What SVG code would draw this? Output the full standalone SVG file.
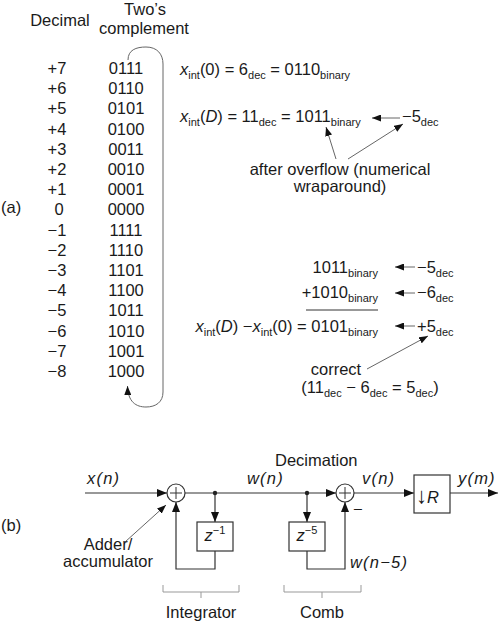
<svg xmlns="http://www.w3.org/2000/svg" width="500" height="623" viewBox="0 0 500 623">
<style>
text{font-family:"Liberation Sans",Arial,sans-serif;font-size:16.5px;fill:#1a1a1a}
.i{font-style:italic}
.lb{font-style:italic;letter-spacing:1.2px}
.s{font-size:11px}
.m{text-anchor:middle}
.e{text-anchor:end}
.ln{fill:none;stroke:#333;stroke-width:1.2}
.tl{fill:none;stroke:#666;stroke-width:1}
.br{fill:none;stroke:#999;stroke-width:1}
.bx{fill:#fff;stroke:#333;stroke-width:1.2}
</style>
<defs>
<marker id="ah" viewBox="0 0 10 8" refX="10" refY="4" markerWidth="10" markerHeight="8" orient="auto" markerUnits="userSpaceOnUse"><path d="M0,0 L10,4 L0,8 Z" fill="#111"/></marker>
<marker id="as" viewBox="0 0 9 7" refX="9" refY="3.5" markerWidth="9" markerHeight="7" orient="auto" markerUnits="userSpaceOnUse"><path d="M0,0 L9,3.5 L0,7 Z" fill="#111"/></marker>
</defs>

<g id="table">
<text x="1" y="213">(a)</text>
<text class="m" x="60" y="26">Decimal</text>
<text class="m" x="145" y="15">Two’s</text>
<text class="m" x="144" y="34">complement</text>
<g class="m">
<text x="57" y="74">+7</text><text x="126" y="74">0111</text>
<text x="57" y="94.2">+6</text><text x="126" y="94.2">0110</text>
<text x="57" y="114.4">+5</text><text x="126" y="114.4">0101</text>
<text x="57" y="134.6">+4</text><text x="126" y="134.6">0100</text>
<text x="57" y="154.8">+3</text><text x="126" y="154.8">0011</text>
<text x="57" y="175">+2</text><text x="126" y="175">0010</text>
<text x="57" y="195.2">+1</text><text x="126" y="195.2">0001</text>
<text x="59" y="215.4">0</text><text x="126" y="215.4">0000</text>
<text x="57" y="235.6">−1</text><text x="126" y="235.6">1111</text>
<text x="57" y="255.8">−2</text><text x="126" y="255.8">1110</text>
<text x="57" y="276">−3</text><text x="126" y="276">1101</text>
<text x="57" y="296.2">−4</text><text x="126" y="296.2">1100</text>
<text x="57" y="316.4">−5</text><text x="126" y="316.4">1011</text>
<text x="57" y="336.6">−6</text><text x="126" y="336.6">1010</text>
<text x="57" y="356.8">−7</text><text x="126" y="356.8">1001</text>
<text x="57" y="377">−8</text><text x="126" y="377">1000</text>
</g>
</g>

<g id="connectors">
<path class="tl" d="M128,60 C128,50 136,47 146,47 C157,47 163,54 163,64 L163,392 C163,402 156,407 146,407 C136,407 128,402 127.5,386" marker-end="url(#as)"/>
<line class="tl" x1="400" y1="118" x2="372" y2="118" marker-end="url(#as)"/>
<line class="tl" x1="336" y1="159" x2="326" y2="127" marker-end="url(#as)"/>
<line class="tl" x1="348" y1="159" x2="403" y2="124" marker-end="url(#as)"/>
<line class="tl" x1="415" y1="267" x2="395" y2="267" marker-end="url(#as)"/>
<line class="tl" x1="415" y1="293" x2="395" y2="293" marker-end="url(#as)"/>
<line class="tl" x1="415" y1="326" x2="395" y2="326" marker-end="url(#as)"/>
<line class="tl" x1="367" y1="369" x2="428" y2="336" marker-end="url(#as)"/>
<line x1="306" y1="310" x2="378" y2="310" stroke="#333" stroke-width="1"/>

<line class="ln" x1="85" y1="493" x2="167" y2="493" marker-end="url(#ah)"/>
<line class="ln" x1="185" y1="493" x2="336" y2="493" marker-end="url(#ah)"/>
<line class="ln" x1="215" y1="493" x2="215" y2="522" marker-end="url(#ah)"/>
<polyline class="ln" points="215,551 215,569 176,569 176,502" marker-end="url(#ah)"/>
<line class="ln" x1="307" y1="493" x2="307" y2="522" marker-end="url(#ah)"/>
<polyline class="ln" points="307,551 307,569 345,569 345,502" marker-end="url(#ah)"/>
<line class="ln" x1="354" y1="493" x2="414" y2="493" marker-end="url(#ah)"/>
<line class="ln" x1="450" y1="493" x2="498" y2="493" marker-end="url(#ah)"/>
<line class="tl" x1="125" y1="542" x2="166" y2="505" marker-end="url(#as)"/>
<circle cx="215" cy="493" r="2.2" fill="#222"/>
<circle cx="307" cy="493" r="2.2" fill="#222"/>
</g>

<g id="equations">
<text x="180" y="75"><tspan class="i">x</tspan><tspan class="s" dy="4">int</tspan><tspan dy="-4">(0) = 6</tspan><tspan class="s" dy="4">dec</tspan><tspan dy="-4"> = 0110</tspan><tspan class="s" dy="4">binary</tspan></text>
<text x="180" y="122"><tspan class="i">x</tspan><tspan class="s" dy="4">int</tspan><tspan dy="-4">(</tspan><tspan class="i">D</tspan><tspan>) = 11</tspan><tspan class="s" dy="4">dec</tspan><tspan dy="-4"> = 1011</tspan><tspan class="s" dy="4">binary</tspan></text>
<text x="402" y="122">−5<tspan class="s" dy="4">dec</tspan></text>
<text class="m" x="340" y="175">after overflow (numerical</text>
<text class="m" x="340" y="192">wraparound)</text>

<text class="e" x="378" y="273">1011<tspan class="s" dy="4">binary</tspan></text>
<text class="e" x="378" y="298">+1010<tspan class="s" dy="4">binary</tspan></text>
<text class="e" x="378" y="332"><tspan class="i">x</tspan><tspan class="s" dy="4">int</tspan><tspan dy="-4">(</tspan><tspan class="i">D</tspan><tspan>) −</tspan><tspan class="i">x</tspan><tspan class="s" dy="4">int</tspan><tspan dy="-4">(0) = 0101</tspan><tspan class="s" dy="4">binary</tspan></text>
<text x="417" y="273">−5<tspan class="s" dy="4">dec</tspan></text>
<text x="417" y="298">−6<tspan class="s" dy="4">dec</tspan></text>
<text x="417" y="332">+5<tspan class="s" dy="4">dec</tspan></text>
<text class="m" x="336" y="375">correct</text>
<text class="m" x="370" y="393">(11<tspan class="s" dy="4">dec</tspan><tspan dy="-4"> − 6</tspan><tspan class="s" dy="4">dec</tspan><tspan dy="-4"> = 5</tspan><tspan class="s" dy="4">dec</tspan><tspan dy="-4">)</tspan></text>
</g>

<g id="block">
<text x="1" y="531">(b)</text>
<text class="lb" x="87" y="484">x(n)</text>
<text class="lb" x="247" y="484">w(n)</text>
<text x="275" y="466">Decimation</text>
<text class="lb" x="362" y="484">v(n)</text>
<text class="lb" x="458" y="484">y(m)</text>
<text class="m" x="108" y="550">Adder/</text>
<text class="m" x="108" y="567">accumulator</text>
<text class="lb" x="350" y="568">w(n−5)</text>
<text x="353" y="515">−</text>
</g>

<g id="adder1">
<circle cx="176" cy="493" r="9" fill="#fff" stroke="#333" stroke-width="1.2"/>
<path d="M170,493 H182 M176,487 V499" stroke="#333" stroke-width="1"/>
</g>
<g id="adder2">
<circle cx="345" cy="493" r="9" fill="#fff" stroke="#333" stroke-width="1.2"/>
<path d="M339,493 H351 M345,487 V499" stroke="#333" stroke-width="1"/>
</g>
<g id="delay1">
<rect class="bx" x="197" y="522" width="36" height="29"/>
<text class="m" x="215" y="541"><tspan class="i">z</tspan><tspan class="s" dy="-7">−1</tspan></text>
</g>
<g id="delay5">
<rect class="bx" x="289" y="522" width="36" height="29"/>
<text class="m" x="307" y="541"><tspan class="i">z</tspan><tspan class="s" dy="-7">−5</tspan></text>
</g>
<g id="downsample">
<rect class="bx" x="414" y="475" width="36" height="38"/>
<text x="416" y="503"><tspan font-size="22">↓</tspan><tspan class="i" dx="0">R</tspan></text>
</g>

<g id="integrator">
<path class="br" d="M163,585 V592 H239 V585 M201,592 V598"/>
<text class="m" x="201" y="618">Integrator</text>
</g>
<g id="comb">
<path class="br" d="M284,585 V592 H361 V585 M322,592 V598"/>
<text class="m" x="322" y="618">Comb</text>
</g>
</svg>
